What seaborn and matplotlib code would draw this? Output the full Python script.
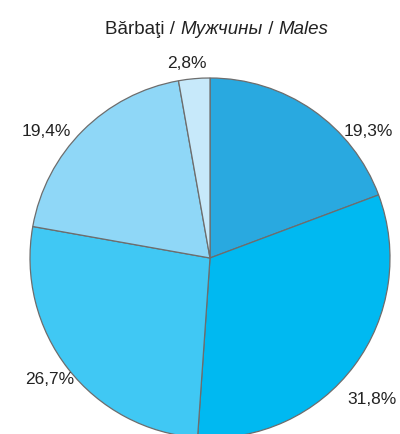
import matplotlib
matplotlib.use("Agg")
import matplotlib.pyplot as plt
import seaborn as sns

# Data
categories = ["A", "B", "C", "D", "E"]
values = [19.3, 31.8, 26.7, 19.4, 2.8]
labels = ["19,3%", "31,8%", "26,7%", "19,4%", "2,8%"]
colors = ["#29A9E0", "#00B9F1", "#40C8F4", "#8FD7F7", "#C7E9FA"]

sns.set_theme(style="white")
plt.rcParams["font.family"] = ["Liberation Sans", "DejaVu Sans"]

W, H = 400, 434
fig = plt.figure(figsize=(W / 100, H / 100), dpi=100)
ax = fig.add_axes([0, 0, 1, 1])
ax.axis("off")

cx, cy, R = 210, 258, 180

ax.pie(values, colors=colors, startangle=90, counterclock=False, radius=1,
       wedgeprops=dict(edgecolor="#6d6d6d", linewidth=0.9), frame=False)
ax.set_aspect("equal")
ax.set_xlim(-cx / R, (W - cx) / R)
ax.set_ylim((cy - H) / R, cy / R)

label_px = [(368, 131), (372, 400), (50, 380), (46, 132), (187, 63)]
for lab, (px, py) in zip(labels, label_px):
    ax.text((px - cx) / R, (cy - py) / R, lab, ha="center", va="center",
            fontsize=12.5, color="#222222")

# Title with mixed styles
pieces = [("Bărbaţi / ", "normal"), ("Мужчины", "italic"), (" / ", "normal"), ("Males", "italic")]
fig.canvas.draw()
renderer = fig.canvas.get_renderer()
texts = []
for s, st in pieces:
    t = fig.text(0, 0, s, fontsize=13.5, style=st, color="#222222", va="center", ha="left")
    texts.append(t)
widths = [t.get_window_extent(renderer).width for t in texts]
total = sum(widths)
x0 = 217 - total / 2
ty = 1 - 30 / H
for t, w in zip(texts, widths):
    t.set_position((x0 / W, ty))
    x0 += w

fig.savefig("out.png", dpi=100)
